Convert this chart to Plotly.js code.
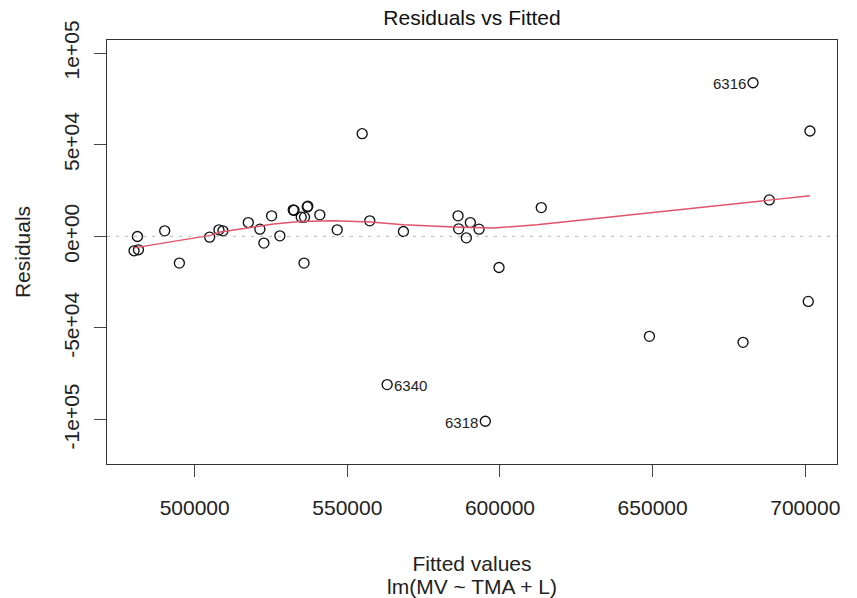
<!DOCTYPE html>
<html>
<head>
<meta charset="utf-8">
<script src="https://cdn.plot.ly/plotly-3.0.1.min.js"></script>
<style>
  html, body { margin: 0; padding: 0; background: #fff; }
  #chart { width: 857px; height: 598px; }
</style>
</head>
<body>
<div id="chart"></div>
<script>
// ---- data (lm(MV ~ TMA + L), Residuals vs Fitted) ----
const fittedValues = [481253, 480141, 481580, 490185, 494994, 504908, 507950, 509259, 517569, 521364,
                      522673, 525192, 527908, 532292, 532553, 534909, 535989, 537069, 536872, 535826,
                      540994, 546687, 554867, 557353, 568378, 586275, 586471, 590299, 593146, 588990,
                      599689, 613528, 563047, 595206, 648964, 679618, 700983, 701538, 688222, 682891];
const residualValues = [-100, -7898, -7353, 2996, -14597, -436, 3540, 2996, 7516, 3922,
                        -3704, 11166, 272, 14433, 14161, 10457, 10457, 16449, 16067, -14597,
                        11710, 3540, 55991, 8442, 2614, 11166, 4085, 7516, 3922, -817,
                        -16993, 15686, -80882, -100871, -54575, -57843, -35511, 57462, 19880, 83768];
// lowess smoother (red line)
const smoothX = [480141, 505106, 508380, 519282, 525830, 534570, 545473, 557586, 568489, 584859,
                 597955, 612164, 632889, 660064, 688548, 701538];
const smoothY = [-6300, 500, 2340, 4850, 6700, 8110, 8490, 7780, 6320, 5070,
                 4520, 6320, 9970, 14870, 19550, 22110];
// labelled observations (index into the arrays above)
const labelIndex = [39, 32, 33];
const labelText = ['6316', '6340', '6318'];
// axis ticks and captions
const xTickVals = [500000, 550000, 600000, 650000, 700000];
const xTickText = ['500000', '550000', '600000', '650000', '700000'];
const yTickVals = [-100000, -50000, 0, 50000, 100000];
const yTickText = ['-1e+05', '-5e+04', '0e+00', '5e+04', '1e+05'];
const mainTitle = 'Residuals vs Fitted';
const xTitle = 'Fitted values';
const subCaption = 'lm(MV ~ TMA + L)';
const yTitle = 'Residuals';

// ---- R-style axis ranges (extendrange) ----
function extend(lo, hi, f) { const d = (hi - lo) * f; return [lo - d, hi + d]; }
const xr = extend(Math.min(...fittedValues), Math.max(...fittedValues), 0.04);
const yr0 = extend(Math.min(...residualValues), Math.max(...residualValues), 0.08);
const yr = extend(yr0[0], yr0[1], 0.04);

const FONT = '"Liberation Sans", Arial, Helvetica, sans-serif';
const midX = (Math.min(...fittedValues) + Math.max(...fittedValues)) / 2;

const traces = [
  {
    x: fittedValues, y: residualValues, type: 'scatter', mode: 'markers',
    marker: { symbol: 'circle-open', size: 10, color: '#111', line: { width: 1.35, color: '#111' } },
    hoverinfo: 'skip', showlegend: false
  },
  {
    x: smoothX, y: smoothY, type: 'scatter', mode: 'lines',
    line: { color: '#DF536B', width: 1.4 },
    hoverinfo: 'skip', showlegend: false
  }
];

const annotations = labelIndex.map((i, k) => {
  const right = fittedValues[i] < midX;
  return {
    x: fittedValues[i], y: residualValues[i], xref: 'x', yref: 'y',
    text: labelText[k], showarrow: false,
    xanchor: right ? 'left' : 'right', yanchor: 'middle',
    xshift: right ? 5 : -5, yshift: -1,
    font: { family: FONT, size: 15, color: '#222' }
  };
});
// sub caption below the x-axis title (as R's plot.lm draws it)
annotations.push({
  xref: 'paper', yref: 'paper', x: 0.5, y: -(586 - 464) / 424,
  xanchor: 'center', yanchor: 'middle', showarrow: false,
  text: subCaption, font: { family: FONT, size: 21, color: '#222' }
});

const layout = {
  width: 857, height: 598,
  margin: { l: 107, r: 20, t: 40, b: 134, pad: 0 },
  paper_bgcolor: '#fff', plot_bgcolor: '#fff',
  font: { family: FONT, size: 21, color: '#222' },
  title: {
    text: mainTitle, x: 0.5, xref: 'paper', xanchor: 'center',
    y: 1 - 18 / 598, yref: 'container', yanchor: 'middle',
    font: { family: FONT, size: 21, color: '#111' }
  },
  xaxis: {
    range: xr, tickvals: xTickVals, ticktext: xTickText,
    ticks: 'outside', ticklen: 12, tickwidth: 1, tickcolor: '#444',
    showgrid: false, zeroline: false, showline: true, mirror: true,
    linecolor: '#333', linewidth: 1.3,
    tickfont: { family: FONT, size: 21, color: '#222' },
    ticklabelstandoff: 12,
    title: { text: xTitle, font: { family: FONT, size: 21, color: '#222' }, standoff: 38 },
    automargin: false, fixedrange: true
  },
  yaxis: {
    range: yr, tickvals: yTickVals, ticktext: yTickText, tickangle: -90,
    ticks: 'outside', ticklen: 12, tickwidth: 1, tickcolor: '#444',
    showgrid: false, zeroline: false, showline: true, mirror: true,
    linecolor: '#333', linewidth: 1.3,
    tickfont: { family: FONT, size: 21, color: '#222' },
    ticklabelstandoff: 6,
    title: { text: yTitle, font: { family: FONT, size: 21, color: '#222' }, standoff: 24 },
    automargin: false, fixedrange: true
  },
  shapes: [{
    type: 'line', xref: 'paper', x0: 0, x1: 1, yref: 'y', y0: 0, y1: 0,
    line: { color: '#b5b5b5', width: 1, dash: '3px,6px' }, layer: 'above'
  }],
  annotations: annotations,
  showlegend: false
};

Plotly.newPlot('chart', traces, layout, { displayModeBar: false, staticPlot: true });
</script>
</body>
</html>
